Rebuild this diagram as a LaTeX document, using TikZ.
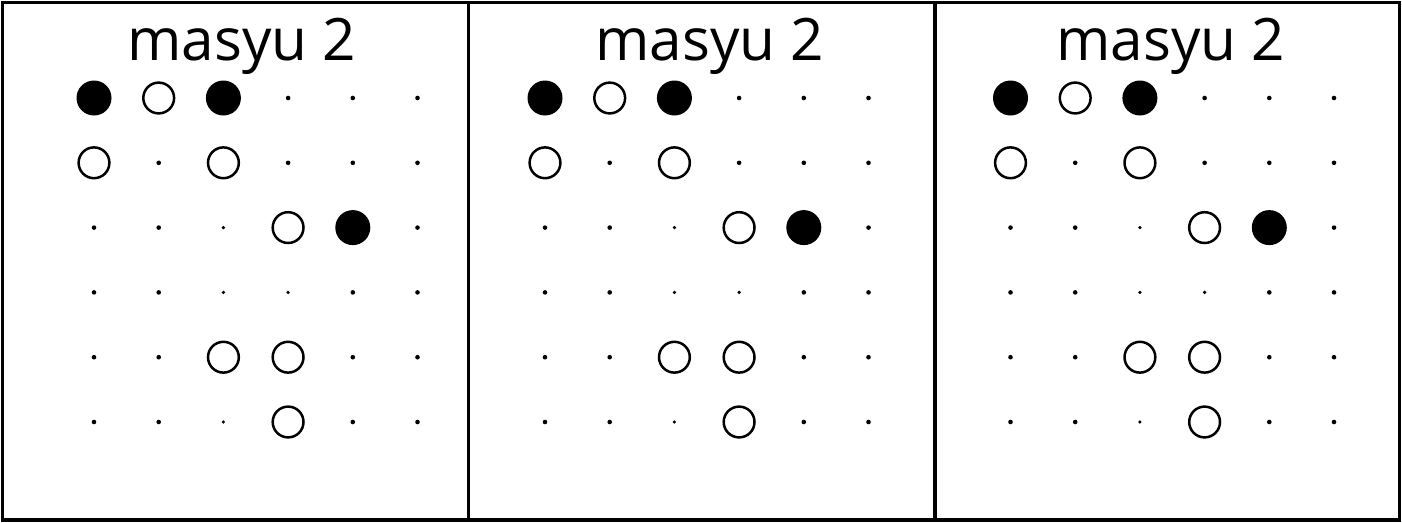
\documentclass[tikz,border=0pt]{standalone}
\usepackage{fontspec}
\setmainfont{Open Sans}
\begin{document}
\begin{tikzpicture}[x=1pt,y=-1pt,
  panelbox/.style={draw=black,line width=3.2pt},
  title/.style={font=\fontsize{58.5}{58.5}\selectfont,anchor=base,inner sep=0pt},
  blackpearl/.style={circle,fill=black,minimum size=35pt,inner sep=0pt},
  whitepearl/.style={circle,draw=black,line width=2.5pt,fill=white,minimum size=30.8pt,inner sep=0pt},
  gdot/.style={circle,fill=black,minimum size=4.6pt,inner sep=0pt},
  sdot/.style={circle,fill=black,minimum size=3.6pt,inner sep=0pt}]
\useasboundingbox (0,0) rectangle (1402,522);
\fill[white] (0,0) rectangle (1402,522);
\draw[panelbox] (2.5,2.5) rectangle (468.5,520);
\draw[panelbox] (468.5,2.5) rectangle (935,520);
\draw[panelbox] (935,2.5) rectangle (1399.5,520);
\foreach \p/\ox/\tx in {1/94/242,2/545/710,3/1010.5/1171}{
  \node[title] (t\p) at (\tx,60) {masyu 2};
  \foreach \r in {0,...,5}{
    \foreach \c in {0,...,5}{
      \pgfmathsetmacro{\xx}{\ox+64.7*\c}
      \pgfmathsetmacro{\yy}{98+64.8*\r}
      \edef\kind{gdot}
      \ifnum\r=0 \ifnum\c=0 \edef\kind{blackpearl}\fi\ifnum\c=1 \edef\kind{whitepearl}\fi\ifnum\c=2 \edef\kind{blackpearl}\fi\fi
      \ifnum\r=1 \ifnum\c=0 \edef\kind{whitepearl}\fi\ifnum\c=2 \edef\kind{whitepearl}\fi\fi
      \ifnum\r=2 \ifnum\c=2 \edef\kind{sdot}\fi\ifnum\c=3 \edef\kind{whitepearl}\fi\ifnum\c=4 \edef\kind{blackpearl}\fi\fi
      \ifnum\r=3 \ifnum\c=2 \edef\kind{sdot}\fi\ifnum\c=3 \edef\kind{sdot}\fi\fi
      \ifnum\r=4 \ifnum\c=2 \edef\kind{whitepearl}\fi\ifnum\c=3 \edef\kind{whitepearl}\fi\fi
      \ifnum\r=5 \ifnum\c=2 \edef\kind{sdot}\fi\ifnum\c=3 \edef\kind{whitepearl}\fi\fi
      \node[\kind] (p\p-\r-\c) at (\xx,\yy) {};
    }
  }
}
\end{tikzpicture}
\end{document}
